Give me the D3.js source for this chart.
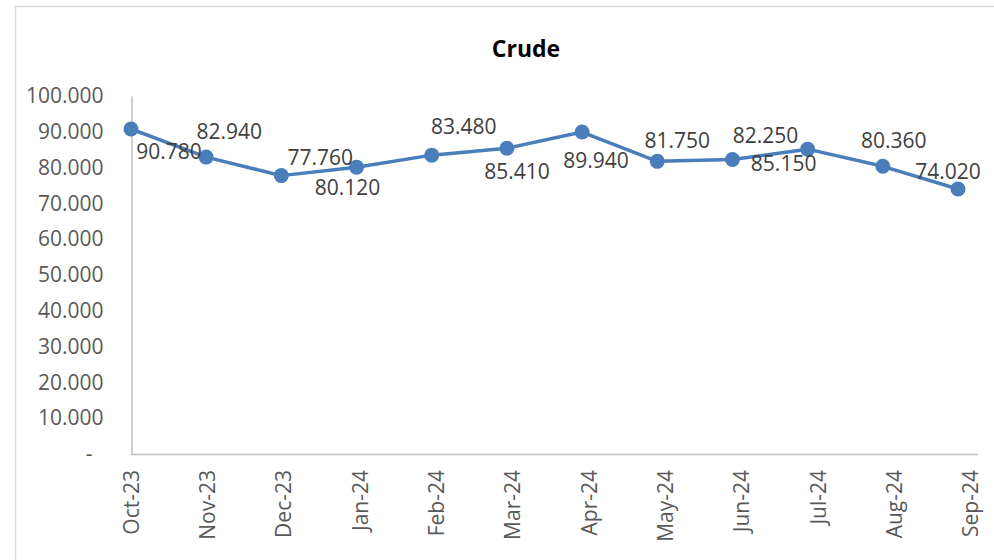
<!DOCTYPE html>
<html>
<head>
<meta charset="utf-8">
<script src="https://cdn.jsdelivr.net/npm/d3@7"></script>
<style>
  body { margin: 0; background: #fff; }
  svg { display: block; font-family: "Open Sans", sans-serif; }
</style>
</head>
<body>
<div id="chart"></div>
<script>
// size of window
var width = 994, height = 560;

// chart data
var months = ["Oct-23", "Nov-23", "Dec-23", "Jan-24", "Feb-24", "Mar-24",
              "Apr-24", "May-24", "Jun-24", "Jul-24", "Aug-24", "Sep-24"];
var crude = [90.78, 82.94, 77.76, 80.12, 83.48, 85.41,
             89.94, 81.75, 82.25, 85.15, 80.36, 74.02];
var yTicks = [0, 10, 20, 30, 40, 50, 60, 70, 80, 90, 100];

// where each data label sits relative to its point (label centre)
var labelDx = [38, 23, 39, -9, 32, 10, 14, 20, 33, -24, 11, -10];
var labelDy = [23, -25, -18, 20, -28, 23, 29, -21, -24, 14, -26, -17];

var blue = "#4a7ebb";

var svg = d3.select("#chart").append("svg")
    .attr("width", width)
    .attr("height", height);

// outer chart frame
svg.append("rect")
    .attr("x", 15.5).attr("y", 6.5)
    .attr("width", 990).attr("height", 570)
    .attr("fill", "none")
    .attr("stroke", "#d9d9d9")
    .attr("stroke-width", 1.5);

// title
svg.append("text")
    .attr("x", 526).attr("y", 57)
    .attr("text-anchor", "middle")
    .style("font-size", "23px")
    .style("font-weight", "bold")
    .attr("fill", "#000")
    .text("Crude");

// scales
var x = d3.scalePoint().domain(months).range([131, 958]);
var xLab = d3.scalePoint().domain(months).range([131.5, 971]); // axis labels drift a bit in the original
var y = d3.scaleLinear().domain([0, 100]).range([454, 96]);

// y axis
var yAxis = svg.append("g")
    .attr("transform", "translate(131.5,0)")
    .call(d3.axisLeft(y).tickValues(yTicks).tickSize(0).tickPadding(28)
        .tickFormat(function(d) { return d === 0 ? "-" : d3.format(".3f")(d); }));
yAxis.select(".domain").attr("stroke", "#bfbfbf").attr("stroke-width", 1.5);
yAxis.selectAll("text")
    .style("font-size", "21px")
    .style("font-family", "'Open Sans', sans-serif")
    .attr("fill", "#595959");
// zero shows as a dash, padded in from the right like excel does
yAxis.selectAll(".tick")
    .filter(function(d) { return d === 0; })
    .select("text")
    .attr("dx", -11);

// x axis line
svg.append("line")
    .attr("x1", 131).attr("x2", 978)
    .attr("y1", 454.5).attr("y2", 454.5)
    .attr("stroke", "#bfbfbf")
    .attr("stroke-width", 1.5);

// x labels, rotated
svg.append("g").selectAll("text")
    .data(months)
    .join("text")
    .attr("transform", function(d) { return "translate(" + xLab(d) + ",470) rotate(-90)"; })
    .attr("text-anchor", "end")
    .attr("dy", "0.35em")
    .style("font-size", "21px")
    .attr("fill", "#595959")
    .text(function(d) { return d; });

// the line
var line = d3.line()
    .x(function(d, i) { return x(months[i]); })
    .y(function(d) { return y(d); });

svg.append("path")
    .datum(crude)
    .attr("d", line)
    .attr("fill", "none")
    .attr("stroke", blue)
    .attr("stroke-width", 3.5)
    .attr("stroke-linejoin", "round");

// markers
svg.append("g").selectAll("circle")
    .data(crude)
    .join("circle")
    .attr("cx", function(d, i) { return x(months[i]); })
    .attr("cy", function(d) { return y(d); })
    .attr("r", 7.5)
    .attr("fill", blue);

// data labels
svg.append("g").selectAll("text")
    .data(crude)
    .join("text")
    .attr("x", function(d, i) { return x(months[i]) + labelDx[i]; })
    .attr("y", function(d, i) { return y(d) + labelDy[i]; })
    .attr("text-anchor", "middle")
    .attr("dy", "0.35em")
    .style("font-size", "21px")
    .attr("fill", "#404040")
    .text(function(d) { return d3.format(".3f")(d); });
</script>
</body>
</html>
